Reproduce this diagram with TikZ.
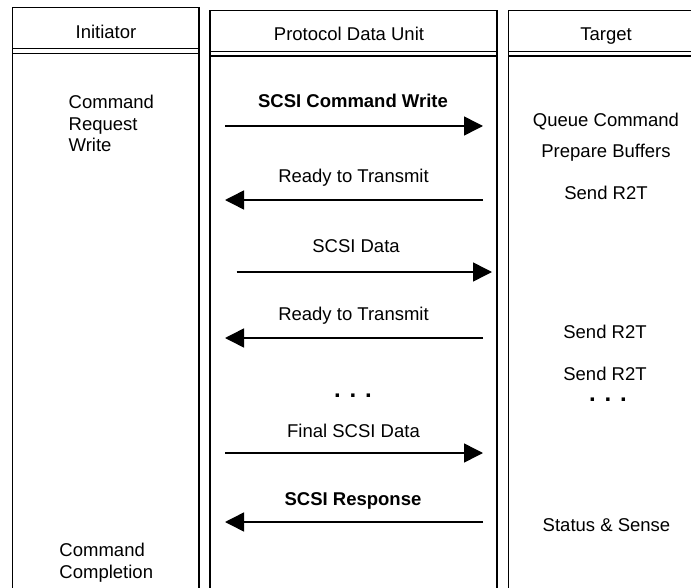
\documentclass[tikz,border=0pt]{standalone}
\usepackage{fontspec}
\setmainfont{Liberation Sans}
\usetikzlibrary{arrows.meta}

\tikzset{
  lane/.style={line width=1.6bp},
  headsep/.style={line width=1.3bp},
  txt/.style={font=\fontsize{18.5bp}{21.5bp}\selectfont, inner sep=0pt, anchor=base},
  boldtxt/.style={txt, font=\fontsize{18.5bp}{21.5bp}\selectfont\bfseries},
  multitxt/.style={txt, align=left, anchor=base west},
  ellip/.style={font=\fontsize{24bp}{24bp}\selectfont\bfseries, inner sep=0pt,
                text height=3.5bp, text depth=0pt, anchor=base},
  msg/.style={line width=1.5bp, -{Triangle[length=19bp,width=19bp]}}
}

\begin{document}
\begin{tikzpicture}[x=1bp, y=-1bp]
  \useasboundingbox (0,0) rectangle (691,588);

  % ---- lanes (open at the bottom) ----
  \draw[lane] (12.5,592) -- (12.5,7.5) -- (199,7.5) -- (199,592);
  \draw[headsep] (12.5,48.3) -- (199,48.3) (12.5,53.3) -- (199,53.3);

  \draw[lane] (210,592) -- (210,10.5) -- (496.7,10.5) -- (496.7,592);
  \draw[headsep] (210,51.7) -- (496.7,51.7) (210,56) -- (496.7,56);

  \draw[lane] (508.5,592) -- (508.5,10.5) -- (700,10.5);
  \draw[headsep] (508.5,51.7) -- (700,51.7) (508.5,56) -- (700,56);

  % ---- headers ----
  \node[txt] (hInit) at (106,38.5) {Initiator};
  \node[txt] (hPdu)  at (349,41) {Protocol Data Unit};
  \node[txt] (hTgt)  at (606,40.5) {Target};

  % ---- initiator side (anchored on the last line's baseline) ----
  \node[multitxt] (iReq)  at (68.5,152) {Command\\Request\\Write};
  \node[multitxt] (iDone) at (59.3,578) {Command\\Completion};

  % ---- target side ----
  \node[txt] (tQueue) at (606,126.5) {Queue Command};
  \node[txt] (tPrep)  at (606,158)   {Prepare Buffers};
  \node[txt] (tR2Ta)  at (606,200)   {Send R2T};
  \node[txt] (tR2Tb)  at (605,338)   {Send R2T};
  \node[txt] (tR2Tc)  at (605,380.5) {Send R2T};
  \node[ellip] (tMore) at (608,401) {. . .};
  \node[txt] (tStat)  at (606.5,531) {Status \& Sense};

  % ---- PDU labels ----
  \node[boldtxt] (pCmd)   at (353,108)   {SCSI Command Write};
  \node[txt]     (pR2Ta)  at (353.5,183) {Ready to Transmit};
  \node[txt]     (pData)  at (356,252)   {SCSI Data};
  \node[txt]     (pR2Tb)  at (353.5,320) {Ready to Transmit};
  \node[ellip]   (pMore)  at (353,397)   {. . .};
  \node[txt]     (pFinal) at (353.5,437) {Final SCSI Data};
  \node[boldtxt] (pResp)  at (353,505)   {SCSI Response};

  % ---- message arrows ----
  \coordinate (cmdL)   at (225,126);   \coordinate (cmdR)   at (483,126);
  \coordinate (r2taL)  at (225,200);   \coordinate (r2taR)  at (483,200);
  \coordinate (dataL)  at (236.5,272); \coordinate (dataR)  at (492,272);
  \coordinate (r2tbL)  at (225,338);   \coordinate (r2tbR)  at (483,338);
  \coordinate (finalL) at (225,453);   \coordinate (finalR) at (483,453);
  \coordinate (respL)  at (225,522);   \coordinate (respR)  at (483,522);

  \draw[msg] (cmdL)   -- (cmdR);
  \draw[msg] (r2taR)  -- (r2taL);
  \draw[msg] (dataL)  -- (dataR);
  \draw[msg] (r2tbR)  -- (r2tbL);
  \draw[msg] (finalL) -- (finalR);
  \draw[msg] (respR)  -- (respL);
\end{tikzpicture}
\end{document}
